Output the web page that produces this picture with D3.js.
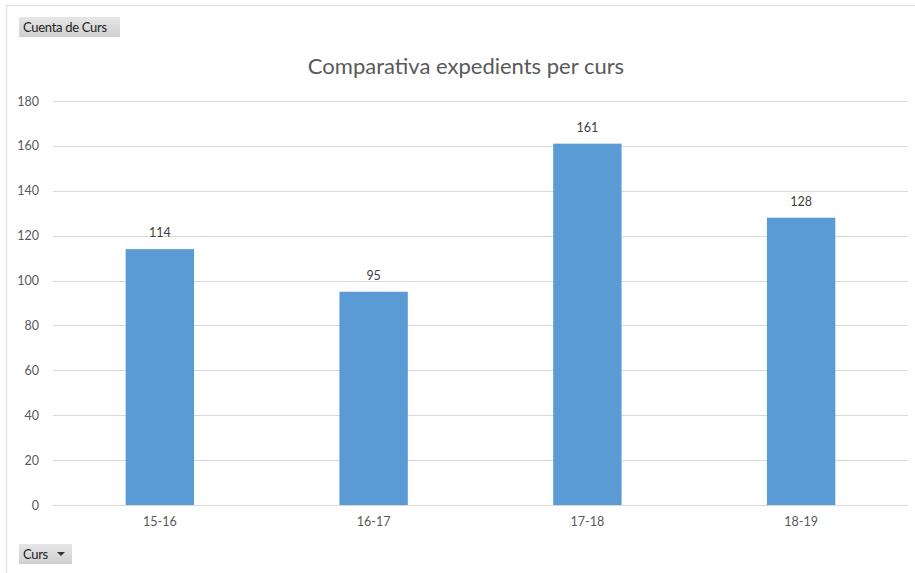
<!DOCTYPE html>
<html>
<head>
<meta charset="utf-8">
<script src="https://cdn.jsdelivr.net/npm/d3@7"></script>
<style>
  body { margin: 0; background: #fff; }
  svg text { font-family: Lato, "Open Sans", sans-serif; }
</style>
</head>
<body>
<div id="chart"></div>
<script>
// data
var cursos = ["15-16", "16-17", "17-18", "18-19"];
var expedients = [114, 95, 161, 128];
var yTicks = [0, 20, 40, 60, 80, 100, 120, 140, 160, 180];

var W = 915, H = 573;
var margin = { top: 101, right: 7, bottom: 68, left: 53 };
var width = W - margin.left - margin.right;
var height = H - margin.top - margin.bottom;

var svg = d3.select("#chart").append("svg")
    .attr("width", W)
    .attr("height", H);

// outer frame (left + top edge only visible)
svg.append("path")
    .attr("d", "M6.5," + H + " V5.5 H" + W)
    .attr("fill", "none")
    .attr("stroke", "#e3e3e3")
    .attr("stroke-width", 1.5);

var g = svg.append("g")
    .attr("transform", "translate(" + margin.left + "," + margin.top + ")");

var x = d3.scaleBand()
    .domain(cursos)
    .range([0, width])
    .paddingInner(0.68)
    .paddingOuter(0.34);

var y = d3.scaleLinear()
    .domain([0, 180])
    .range([height, 0]);

// gridlines
g.append("g")
  .selectAll("line")
  .data(yTicks)
  .enter()
  .append("line")
    .attr("x1", 0)
    .attr("x2", width)
    .attr("y1", function (d) { return Math.round(y(d)) + 0.5; })
    .attr("y2", function (d) { return Math.round(y(d)) + 0.5; })
    .attr("stroke", "#d9d9d9")
    .attr("stroke-width", 1);

// y axis labels
var yAxis = d3.axisLeft(y).tickValues(yTicks).tickSize(0).tickPadding(14);
var ya = g.append("g").call(yAxis);
ya.select(".domain").remove();
ya.selectAll("text")
    .attr("fill", "#595959")
    .style("font-size", "12.5px");

// x axis labels
var xAxis = d3.axisBottom(x).tickSize(0).tickPadding(12);
var xa = g.append("g")
    .attr("transform", "translate(0," + height + ")")
    .call(xAxis);
xa.select(".domain").remove();
xa.selectAll("text")
    .attr("fill", "#595959")
    .style("font-size", "12.5px");

// bars
g.selectAll("rect.bar")
    .data(expedients)
    .enter()
    .append("rect")
    .attr("class", "bar")
    .attr("x", function (d, i) { return x(cursos[i]); })
    .attr("y", function (d) { return y(d); })
    .attr("width", x.bandwidth())
    .attr("height", function (d) { return height - y(d); })
    .attr("fill", "#5b9bd5");

// value labels
g.selectAll("text.val")
    .data(expedients)
    .enter()
    .append("text")
    .attr("class", "val")
    .attr("x", function (d, i) { return x(cursos[i]) + x.bandwidth() / 2; })
    .attr("y", function (d) { return y(d) - 12; })
    .attr("text-anchor", "middle")
    .attr("fill", "#404040")
    .style("font-size", "12.5px")
    .text(function (d) { return d; });

// title
svg.append("text")
    .attr("x", 466)
    .attr("y", 74)
    .attr("text-anchor", "middle")
    .attr("fill", "#595959")
    .style("font-size", "22px")
    .text("Comparativa expedients per curs");

// pivot field buttons
function fieldButton(bx, by, bw, label, arrow) {
  var b = svg.append("g").attr("transform", "translate(" + bx + "," + by + ")");
  var grad = "grad" + bx + "_" + by;
  var lg = svg.append("defs").append("linearGradient")
      .attr("id", grad).attr("x1", 0).attr("y1", 0).attr("x2", 0).attr("y2", 1);
  lg.append("stop").attr("offset", "0%").attr("stop-color", "#e6e6e6");
  lg.append("stop").attr("offset", "100%").attr("stop-color", "#cfcfcf");
  b.append("rect")
      .attr("width", bw).attr("height", 20)
      .attr("fill", "url(#" + grad + ")");
  b.append("text")
      .attr("x", 4).attr("y", 14.5)
      .attr("fill", "#222")
      .style("font-size", "13px")
      .style("letter-spacing", "-0.3px")
      .text(label);
  if (arrow) {
    b.append("path")
        .attr("d", "M" + (bw - 15) + ",8 h8 l-4,4 z")
        .attr("fill", "#333");
  }
}
fieldButton(19, 17, 101, "Cuenta de Curs", false);
fieldButton(19, 544, 53, "Curs", true);
</script>
</body>
</html>
